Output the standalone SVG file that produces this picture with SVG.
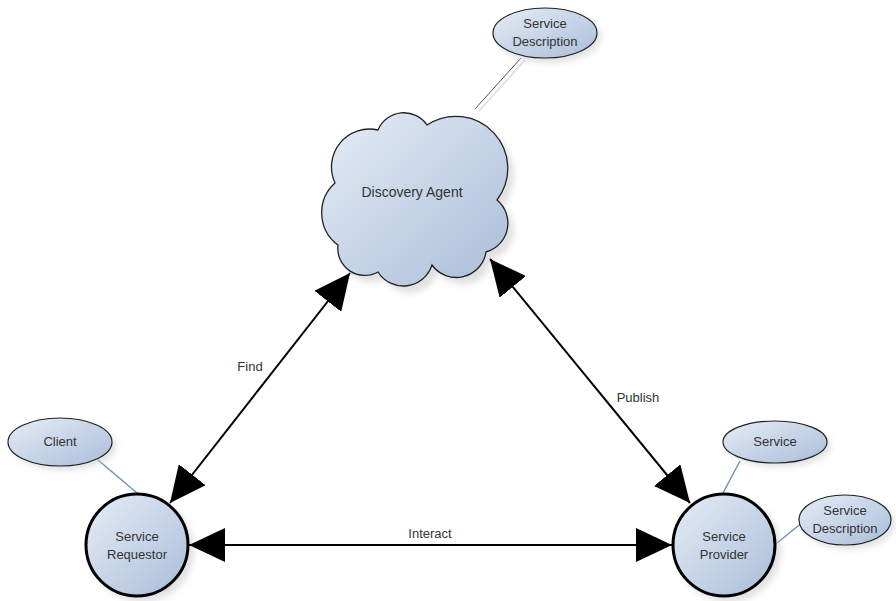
<svg xmlns="http://www.w3.org/2000/svg" width="896" height="601" viewBox="0 0 896 601">
  <defs>
    <linearGradient id="fillBlue" x1="0" y1="0" x2="1" y2="1">
      <stop offset="0" stop-color="#e6edf6"/>
      <stop offset="1" stop-color="#a9bdd9"/>
    </linearGradient>
    <filter id="soft" x="-20%" y="-20%" width="140%" height="140%">
      <feGaussianBlur stdDeviation="3"/>
    </filter>
    <marker id="head" viewBox="0 0 36 34" refX="36" refY="17" markerWidth="36" markerHeight="34" markerUnits="userSpaceOnUse" orient="auto-start-reverse">
      <path d="M0,0 L36,17 L0,34 z" fill="#000"/>
    </marker>
  </defs>
  <style>
    .lbl { font-family: "Liberation Sans", Arial, sans-serif; font-size: 13px; fill: #333; text-anchor: middle; }
    .big { font-size: 14px; }
    .shadow { fill: #c8c8c8; opacity: 0.55; filter: url(#soft); }
    .ell { fill: url(#fillBlue); stroke: #222; stroke-width: 1.2; }
    .role { fill: url(#fillBlue); stroke: #000; stroke-width: 3; }
    .link { stroke: #6c8fb6; stroke-width: 1.4; fill: none; }
    .arrow { stroke: #000; stroke-width: 2; fill: none; marker-start: url(#head); marker-end: url(#head); }
  </style>
  <rect width="896" height="601" fill="#fff"/>

  <!-- thin attachment lines -->
  <g id="attachments">
    <line x1="479" y1="111" x2="525" y2="60" stroke="#e2e2e2" stroke-width="2"/>
    <line x1="475" y1="109" x2="521" y2="58" stroke="#555" stroke-width="1"/>
    <line class="link" x1="98" y1="460" x2="137" y2="493"/>
    <line class="link" x1="723" y1="493" x2="740" y2="461"/>
    <line class="link" x1="777" y1="543" x2="803" y2="522"/>
  </g>

  <!-- discovery agent cloud -->
  <g id="discovery-agent">
    <path class="shadow" transform="translate(6,7)" d="M427,125 A52,52 0 0 1 497,200 A30,30 0 0 1 486,252 A30,30 0 0 1 432,265 A30,30 0 0 1 378,272 A27,27 0 0 1 338,245 A40,40 0 0 1 335,183 A38,38 0 0 1 378,130 A28,28 0 0 1 427,125 z"/>
    <path fill="url(#fillBlue)" stroke="#222" stroke-width="1.3" d="M427,125 A52,52 0 0 1 497,200 A30,30 0 0 1 486,252 A30,30 0 0 1 432,265 A30,30 0 0 1 378,272 A27,27 0 0 1 338,245 A40,40 0 0 1 335,183 A38,38 0 0 1 378,130 A28,28 0 0 1 427,125 z"/>
    <text class="lbl big" x="412" y="197">Discovery Agent</text>
  </g>

  <g id="service-description-top">
    <ellipse class="shadow" cx="549" cy="37" rx="52" ry="26"/>
    <ellipse class="ell" cx="545" cy="33" rx="52" ry="25"/>
    <text class="lbl" x="545" y="28">Service</text>
    <text class="lbl" x="545" y="46">Description</text>
  </g>

  <g id="client">
    <ellipse class="shadow" cx="64" cy="446" rx="52" ry="24"/>
    <ellipse class="ell" cx="60" cy="442" rx="52" ry="24"/>
    <text class="lbl" x="60" y="446">Client</text>
  </g>

  <g id="service">
    <ellipse class="shadow" cx="779" cy="446" rx="52" ry="21"/>
    <ellipse class="ell" cx="775" cy="442" rx="52" ry="21"/>
    <text class="lbl" x="775" y="446">Service</text>
  </g>

  <g id="service-description-right">
    <ellipse class="shadow" cx="849" cy="524" rx="46" ry="25"/>
    <ellipse class="ell" cx="845" cy="520" rx="46" ry="25"/>
    <text class="lbl" x="845" y="515">Service</text>
    <text class="lbl" x="845" y="533">Description</text>
  </g>

  <g id="service-requestor">
    <circle class="shadow" cx="142" cy="550" r="52"/>
    <circle class="role" cx="137" cy="545" r="51"/>
    <text class="lbl" x="137" y="541">Service</text>
    <text class="lbl" x="137" y="559">Requestor</text>
  </g>

  <g id="service-provider">
    <circle class="shadow" cx="729" cy="550" r="52"/>
    <circle class="role" cx="724" cy="545" r="51"/>
    <text class="lbl" x="724" y="541">Service</text>
    <text class="lbl" x="724" y="559">Provider</text>
  </g>

  <!-- interactions -->
  <g id="connectors">
    <line class="arrow" x1="170" y1="503" x2="350" y2="273"/>
    <line class="arrow" x1="490" y1="259" x2="690" y2="503"/>
    <line class="arrow" x1="189" y1="545" x2="672" y2="545"/>
    <text class="lbl" x="250" y="371">Find</text>
    <text class="lbl" x="638" y="402">Publish</text>
    <text class="lbl" x="430" y="538">Interact</text>
  </g>
</svg>
